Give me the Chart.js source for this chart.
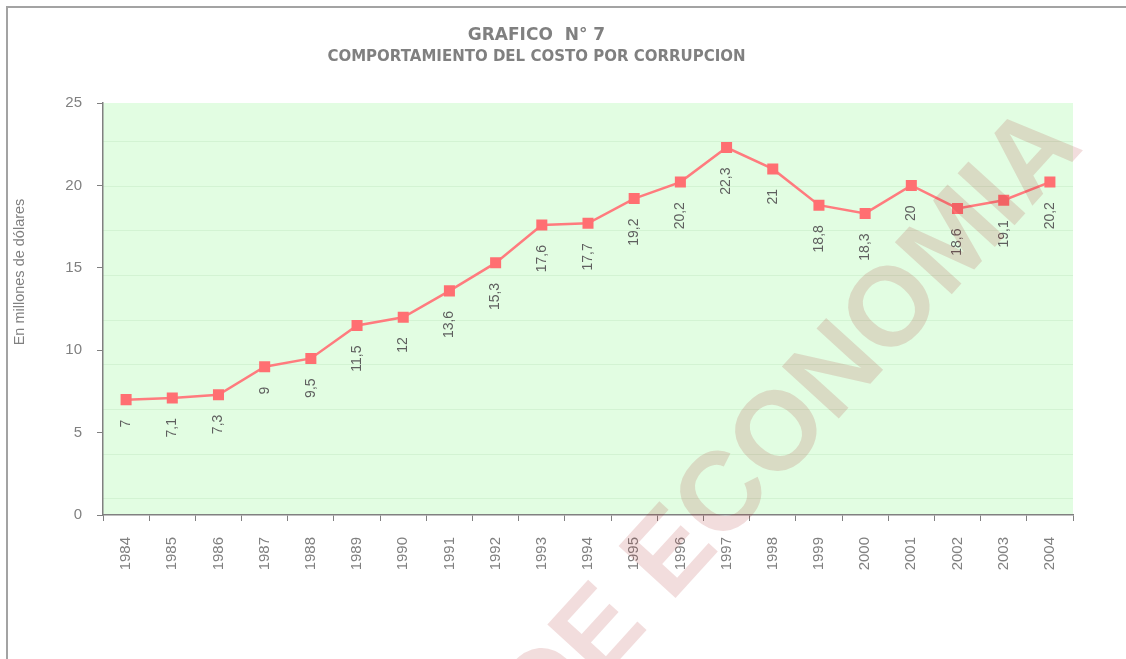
<!DOCTYPE html>
<html>
<head>
<meta charset="utf-8">
<script src="https://cdn.jsdelivr.net/npm/chart.js@4"></script>
<style>
  body { margin: 0; background: #fff; }
  #wrap { position: relative; width: 1126px; height: 659px; overflow: hidden; }
  #frame { position: absolute; left: 6px; top: 6px; right: -4px; bottom: -4px; border-top: 2px solid #a3a3a3; border-left: 2px solid #a3a3a3; }
  canvas { position: absolute; left: 0; top: 0; }
</style>
</head>
<body>
<div id="wrap">
  <div id="frame"></div>
  <canvas id="chart" width="1126" height="659"></canvas>
</div>
<script>
const years = ["1984", "1985", "1986", "1987", "1988", "1989", "1990", "1991", "1992", "1993", "1994",
               "1995", "1996", "1997", "1998", "1999", "2000", "2001", "2002", "2003", "2004"];
const costs = [7, 7.1, 7.3, 9, 9.5, 11.5, 12, 13.6, 15.3, 17.6, 17.7,
               19.2, 20.2, 22.3, 21, 18.8, 18.3, 20, 18.6, 19.1, 20.2];
const yTicks = [0, 5, 10, 15, 20, 25];
const titleText = "GRAFICO  N° 7";
const subtitleText = "COMPORTAMIENTO DEL COSTO POR CORRUPCION";
const yTitleText = "En millones de dólares";
const watermarkText = "DE ECONOMIA";

Chart.defaults.font.family = '"Liberation Sans", Arial, sans-serif';
const gray = "#808080";

// green plot background
const plotBackground = {
    id: "plotBackground",
    beforeDraw(chart) {
        const a = chart.chartArea;
        const ctx = chart.ctx;
        ctx.save();
        ctx.fillStyle = "#e2fde2";
        ctx.fillRect(a.left, a.top, a.right - a.left, a.bottom - a.top);
        ctx.restore();
    }
};

// vertical value labels under each point
const pointLabels = {
    id: "pointLabels",
    afterDatasetsDraw(chart) {
        const ctx = chart.ctx;
        const meta = chart.getDatasetMeta(0);
        ctx.save();
        ctx.font = '14px "Liberation Sans", Arial, sans-serif';
        ctx.fillStyle = "#5f5f5f";
        ctx.textAlign = "right";
        ctx.textBaseline = "middle";
        meta.data.forEach((pt, i) => {
            ctx.save();
            ctx.translate(pt.x, pt.y + 20);
            ctx.rotate(-Math.PI / 2);
            ctx.fillText(String(costs[i]).replace(".", ","), 0, 0);
            ctx.restore();
        });
        ctx.restore();
    }
};

// y axis title, sits a bit above the middle like the original
const yTitle = {
    id: "yTitle",
    afterDraw(chart) {
        const ctx = chart.ctx;
        ctx.save();
        ctx.font = '14.5px "Liberation Sans", Arial, sans-serif';
        ctx.fillStyle = gray;
        ctx.textAlign = "center";
        ctx.textBaseline = "middle";
        ctx.translate(20, 272);
        ctx.rotate(-Math.PI / 2);
        ctx.fillText(yTitleText, 0, 0);
        ctx.restore();
    }
};

// faint diagonal watermark
const watermark = {
    id: "watermark",
    afterDraw(chart) {
        const ctx = chart.ctx;
        ctx.save();
        ctx.font = 'bold 112px "Liberation Sans", Arial, sans-serif';
        ctx.fillStyle = "rgba(170, 30, 30, 0.15)";
        ctx.textAlign = "right";
        ctx.textBaseline = "alphabetic";
        ctx.translate(1085, 148);
        ctx.rotate(-47.7 * Math.PI / 180);
        ctx.fillText(watermarkText, 0, 0);
        ctx.restore();
    }
};

new Chart(document.getElementById("chart"), {
    type: "line",
    data: {
        labels: years,
        datasets: [{
            data: costs,
            borderColor: "#ff7b7e",
            borderWidth: 2.5,
            backgroundColor: "#ff6f72",
            pointStyle: "rect",
            pointRadius: 7.8,
            pointBorderWidth: 0,
            tension: 0
        }]
    },
    options: {
        responsive: false,
        animation: false,
        layout: { padding: { left: 0, right: 53, top: 0, bottom: 0 } },
        plugins: {
            legend: { display: false },
            tooltip: { enabled: false },
            title: {
                display: true,
                text: titleText,
                color: gray,
                font: { family: '"DejaVu Sans", Verdana, sans-serif', size: 17, weight: "bold" },
                padding: { top: 25, bottom: 2 }
            },
            subtitle: {
                display: true,
                text: subtitleText,
                color: gray,
                font: { family: '"DejaVu Sans", Verdana, sans-serif', size: 15, weight: "bold" },
                padding: { top: 1, bottom: 36.6 }
            }
        },
        scales: {
            x: {
                offset: true,
                grid: { offset: true, drawOnChartArea: false, tickLength: 6, tickColor: gray },
                border: { color: gray, width: 1.5 },
                ticks: { color: gray, font: { size: 15 }, minRotation: 90, maxRotation: 90, padding: 16, autoSkip: false },
                afterFit(scale) { scale.height = 144; }
            },
            y: {
                min: 0,
                max: 25,
                grid: { drawOnChartArea: false, tickLength: 6, tickColor: gray },
                border: { color: gray, width: 1.5 },
                ticks: { color: gray, font: { size: 15 }, padding: 15, stepSize: 5 },
                afterBuildTicks(scale) { scale.ticks = yTicks.map(v => ({ value: v })); },
                afterFit(scale) { scale.width = 103; }
            },
            y2: {
                position: "right",
                min: -0.358,
                max: 8.859,
                grid: { color: "#d3f3d3", drawTicks: false },
                border: { display: false },
                ticks: { display: false },
                afterBuildTicks(scale) { scale.ticks = [0, 1, 2, 3, 4, 5, 6, 7, 8].map(v => ({ value: v })); },
                afterFit(scale) { scale.width = 0; }
            }
        }
    },
    plugins: [plotBackground, pointLabels, yTitle, watermark]
});
</script>
</body>
</html>
